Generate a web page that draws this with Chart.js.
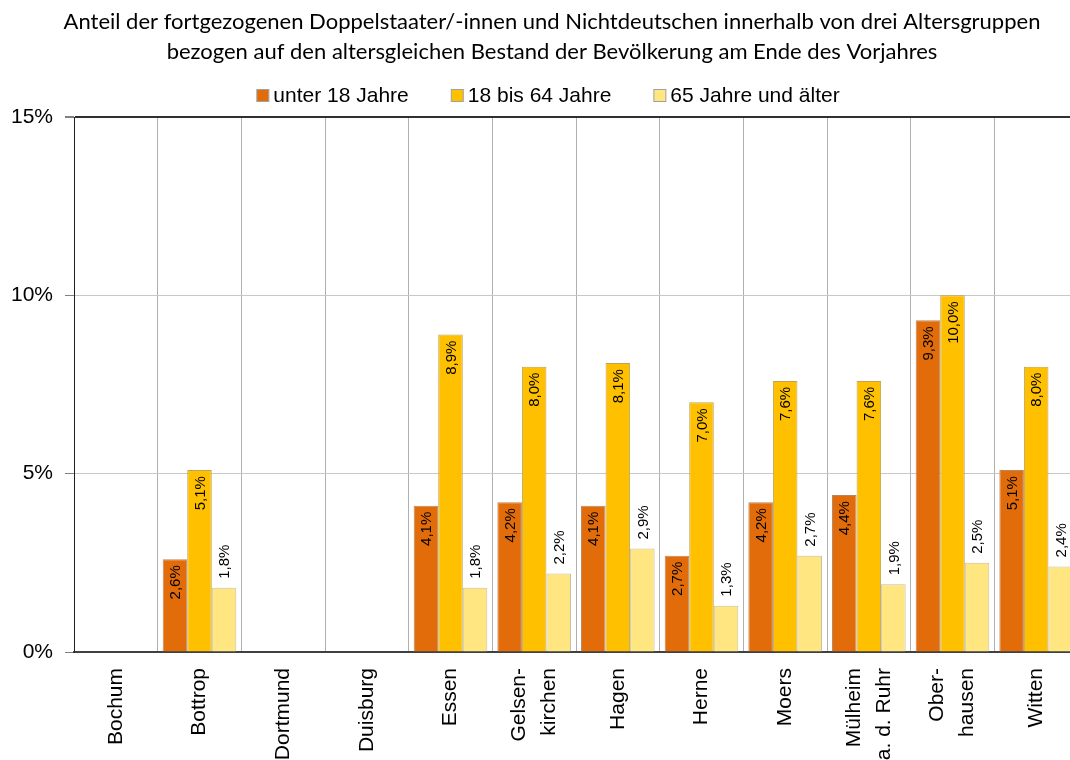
<!DOCTYPE html>
<html>
<head>
<meta charset="utf-8">
<script src="https://cdn.jsdelivr.net/npm/chart.js@4/dist/chart.umd.min.js"></script>
<style>
html,body{margin:0;padding:0;background:#fff;overflow:hidden;width:1070px;height:760px;}
#wrap{position:absolute;left:0;top:0;width:1090px;height:760px;}
</style>
</head>
<body>
<div id="wrap"><canvas id="c" width="1090" height="760"></canvas></div>
<script>
const titleLines = [
  "Anteil der fortgezogenen Doppelstaater/-innen und Nichtdeutschen innerhalb von drei Altersgruppen",
  "bezogen auf den altersgleichen Bestand der Bevölkerung am Ende des Vorjahres"
];
const categories = [
  "Bochum", "Bottrop", "Dortmund", "Duisburg", "Essen", ["Gelsen-", "kirchen"],
  "Hagen", "Herne", "Moers", ["Mülheim", "a. d. Ruhr"], ["Ober-", "hausen"], "Witten"
];
const seriesNames = ["unter 18 Jahre", "18 bis 64 Jahre", "65 Jahre und älter"];
const under18 = [null, 2.6, null, null, 4.1, 4.2, 4.1, 2.7, 4.2, 4.4, 9.3, 5.1];
const age18to64 = [null, 5.1, null, null, 8.9, 8.0, 8.1, 7.0, 7.6, 7.6, 10.0, 8.0];
const age65plus = [null, 1.8, null, null, 1.8, 2.2, 2.9, 1.3, 2.7, 1.9, 2.5, 2.4];
const yTicks = [0, 5, 10, 15];

const colors = ["#E36C0A", "#FFC000", "#FFE680"];
const borders = ["#B8865E", "#BFA35A", "#C8C0A0"];
const FONT = "'Liberation Sans', Arial, sans-serif";

const labelPlugin = {
  id: "barLabels",
  afterDatasetsDraw(chart) {
    const ctx = chart.ctx;
    chart.data.datasets.forEach((ds, i) => {
      const meta = chart.getDatasetMeta(i);
      meta.data.forEach((bar, j) => {
        const v = ds.data[j];
        if (v === null || v === undefined) return;
        const txt = v.toFixed(1).replace(".", ",") + "%";
        ctx.save();
        ctx.font = "15px " + FONT;
        ctx.fillStyle = "#000";
        ctx.textBaseline = "middle";
        if (i < 2) {
          ctx.translate(bar.x, bar.y + 6);
          ctx.rotate(-Math.PI / 2);
          ctx.textAlign = "right";
        } else {
          ctx.translate(bar.x, bar.y - 9);
          ctx.rotate(-Math.PI / 2);
          ctx.textAlign = "left";
        }
        ctx.fillText(txt, 0, 1);
        ctx.restore();
      });
    });
  }
};

const xLabelPlugin = {
  id: "xLabels",
  afterDraw(chart) {
    const ctx = chart.ctx;
    const scale = chart.scales.x;
    const lh = 30;
    ctx.save();
    ctx.font = "21px " + FONT;
    ctx.fillStyle = "#000";
    ctx.textBaseline = "middle";
    ctx.textAlign = "right";
    chart.data.labels.forEach((lab, i) => {
      const lines = Array.isArray(lab) ? lab : [lab];
      const x = scale.getPixelForTick(i);
      lines.forEach((ln, k) => {
        const cx = x + (k - (lines.length - 1) / 2) * lh;
        ctx.save();
        ctx.translate(cx, scale.top + 16);
        ctx.rotate(-Math.PI / 2);
        ctx.fillText(ln, 0, 0);
        ctx.restore();
      });
    });
    ctx.restore();
  }
};

const headerPlugin = {
  id: "header",
  afterDraw(chart) {
    const ctx = chart.ctx;
    ctx.save();
    // title
    ctx.font = "22px Lato, 'Open Sans', sans-serif";
    ctx.fillStyle = "#000";
    ctx.textAlign = "center";
    ctx.textBaseline = "middle";
    titleLines.forEach((t, k) => ctx.fillText(t, 552, 22 + k * 30));
    // legend
    ctx.font = "21px " + FONT;
    const box = 12, gap = 5, itemGap = 42;
    const widths = seriesNames.map(s => ctx.measureText(s).width);
    const total = widths.reduce((a, w) => a + box + gap + w, 0) + itemGap * (seriesNames.length - 1);
    let x = 548 - total / 2;
    const y = 95;
    seriesNames.forEach((s, i) => {
      ctx.fillStyle = colors[i];
      ctx.fillRect(x + 0.5, y - 6 + 0.5, box, box);
      ctx.strokeStyle = "#a0a0a0";
      ctx.lineWidth = 1;
      ctx.strokeRect(x + 0.5, y - 6 + 0.5, box, box);
      ctx.fillStyle = "#000";
      ctx.textAlign = "left";
      ctx.fillText(s, x + box + gap, y + 1);
      x += box + gap + widths[i] + itemGap;
    });
    ctx.restore();
  }
};

const data = {
  labels: categories,
  datasets: [under18, age18to64, age65plus].map((d, i) => ({
    label: seriesNames[i],
    data: d,
    backgroundColor: colors[i],
    borderColor: borders[i],
    borderWidth: 1,
    categoryPercentage: 0.88,
    barPercentage: 1.0
  }))
};

new Chart(document.getElementById("c"), {
  type: "bar",
  data,
  plugins: [labelPlugin, xLabelPlugin, headerPlugin],
  options: {
    responsive: false,
    animation: false,
    layout: { padding: { left: 0, right: 12, top: 117, bottom: 0 } },
    plugins: {
      title: { display: false },
      legend: { display: false },
      tooltip: { enabled: false }
    },
    scales: {
      x: {
        offset: true,
        grid: {
          offset: true,
          display: true,
          color: "#b0b0b0",
          lineWidth: 1,
          drawTicks: false
        },
        border: { display: true, color: "#404040", width: 2 },
        ticks: { display: false },
        afterFit(scale) { scale.height = 108; }
      },
      y: {
        min: 0,
        max: 15,
        afterBuildTicks(scale) { scale.ticks = yTicks.map(v => ({ value: v })); },
        grid: {
          color: (c) => (c.tick && c.tick.value === 15) ? "#303030" : "#c8c8c8",
          lineWidth: (c) => (c.tick && c.tick.value === 15) ? 2 : 1,
          tickColor: "#808080",
          tickLength: 9,
          drawTicks: true
        },
        border: { display: true, color: "#202020", width: 1 },
        ticks: {
          color: "#000",
          padding: 12,
          font: { family: FONT, size: 21 },
          callback: (v) => v + "%"
        },
        afterFit(scale) { scale.width = 74; }
      }
    }
  }
});
</script>
</body>
</html>
